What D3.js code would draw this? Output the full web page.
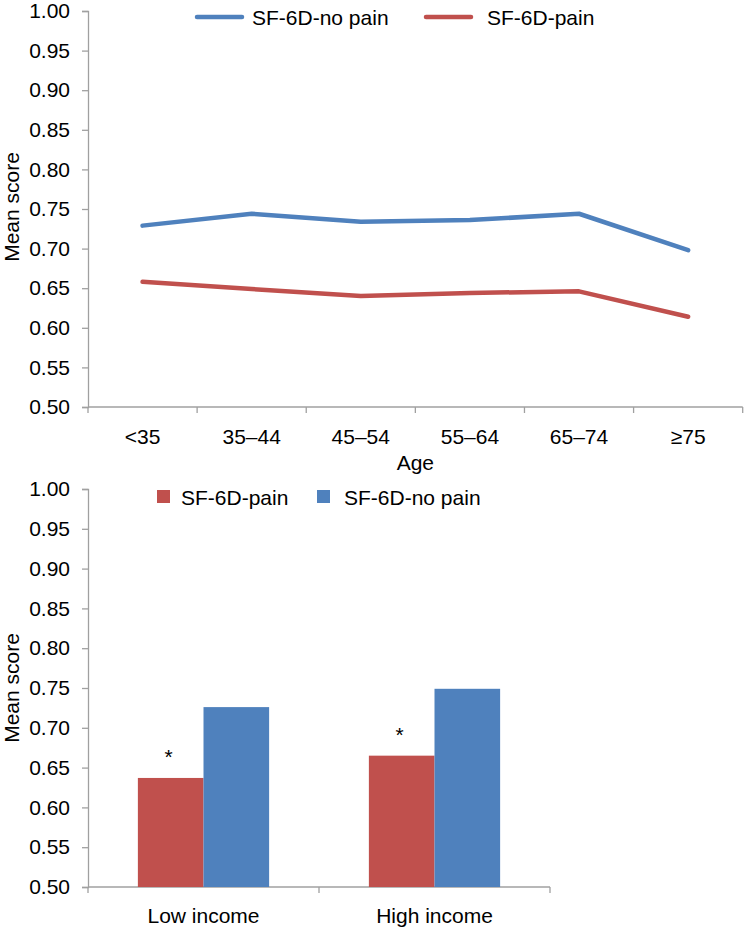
<!DOCTYPE html>
<html><head><meta charset="utf-8">
<script src="https://cdn.jsdelivr.net/npm/d3@7"></script>
<style>
html,body{margin:0;padding:0;background:#fff;}
text{font-family:"Liberation Sans",Arial,sans-serif;fill:#000;}
</style></head>
<body>
<svg id="c" width="744" height="929"></svg>
<script>
// ---- data ----
const ageGroups = ["<35","35–44","45–54","55–64","65–74","≥75"];
const noPainByAge = [0.729,0.744,0.734,0.736,0.744,0.698];
const painByAge   = [0.658,0.649,0.640,0.644,0.646,0.614];
const incomeGroups = ["Low income","High income"];
const painByIncome   = [0.637,0.665];
const noPainByIncome = [0.726,0.749];
const significant = [true,true];
const yTicks = [0.50,0.55,0.60,0.65,0.70,0.75,0.80,0.85,0.90,0.95,1.00];

const BLUE="#4f81bd", RED="#c0504d", AXIS="#a0a0a0", FS=21;
const svg = d3.select("#c");

function yAxis(g, y){
  const ax = d3.axisLeft(y).tickValues(yTicks).tickFormat(d3.format(".2f")).tickSize(6).tickPadding(12);
  g.call(ax);
  g.select(".domain").attr("stroke",AXIS).attr("stroke-width",1.3);
  g.selectAll(".tick line").attr("stroke",AXIS).attr("stroke-width",1.3);
  g.selectAll(".tick text").style("font-size",FS+"px").style("font-family","'Liberation Sans',Arial,sans-serif").attr("fill","#000");
}

// ---- Top chart: line chart by age ----
const yT = d3.scaleLinear().domain([0.5,1]).range([407,11]);
const xT = d3.scaleBand().domain(ageGroups).range([88,742.7]).padding(0);
const gT = svg.append("g");
gT.append("g").attr("transform","translate(88,0)").call(g=>yAxis(g,yT));
gT.append("line").attr("x1",xT.range()[0]).attr("x2",xT.range()[1]).attr("y1",yT(0.5)).attr("y2",yT(0.5)).attr("stroke",AXIS).attr("stroke-width",1.3);
const boundsT = ageGroups.map(d=>xT(d)).concat([xT.range()[1]]);
gT.selectAll(".xt").data(boundsT).join("line").attr("x1",d=>d).attr("x2",d=>d).attr("y1",yT(0.5)).attr("y2",yT(0.5)+6).attr("stroke",AXIS).attr("stroke-width",1.3);
gT.selectAll(".xl").data(ageGroups).join("text").attr("x",d=>xT(d)+xT.bandwidth()/2).attr("y",444).attr("text-anchor","middle").style("font-size",FS+"px").text(d=>d);
gT.append("text").attr("x",(xT.range()[0]+xT.range()[1])/2).attr("y",470).attr("text-anchor","middle").style("font-size",FS+"px").text("Age");
gT.append("text").attr("transform","translate(19,207) rotate(-90)").attr("text-anchor","middle").style("font-size",FS+"px").text("Mean score");
const line = d3.line().x((d,i)=>xT(ageGroups[i])+xT.bandwidth()/2).y(d=>yT(d));
gT.append("path").datum(noPainByAge).attr("d",line).attr("fill","none").attr("stroke",BLUE).attr("stroke-width",4.5).attr("stroke-linejoin","round").attr("stroke-linecap","round");
gT.append("path").datum(painByAge).attr("d",line).attr("fill","none").attr("stroke",RED).attr("stroke-width",4.5).attr("stroke-linejoin","round").attr("stroke-linecap","round");
// legend
const legT = [{name:"SF-6D-no pain",c:BLUE,x:197,tx:252},{name:"SF-6D-pain",c:RED,x:426,tx:487}];
legT.forEach(l=>{
  gT.append("line").attr("x1",l.x).attr("x2",l.x+45).attr("y1",17).attr("y2",17).attr("stroke",l.c).attr("stroke-width",4.5).attr("stroke-linecap","round");
  gT.append("text").attr("x",l.tx).attr("y",25).style("font-size",FS+"px").text(l.name);
});

// ---- Bottom chart: bars by income ----
const yB = d3.scaleLinear().domain([0.5,1]).range([887,489]);
const xB = d3.scaleBand().domain(incomeGroups).range([88,550]).padding(0);
const series = ["pain","nopain"];
const x1 = d3.scaleBand().domain(series).range([0,xB.bandwidth()]).paddingInner(0).paddingOuter(0.76);
const gB = svg.append("g");
gB.append("g").attr("transform","translate(88,0)").call(g=>yAxis(g,yB));
gB.append("line").attr("x1",xB.range()[0]).attr("x2",xB.range()[1]).attr("y1",yB(0.5)).attr("y2",yB(0.5)).attr("stroke",AXIS).attr("stroke-width",1.3);
const boundsB = incomeGroups.map(d=>xB(d)).concat([xB.range()[1]]);
gB.selectAll(".xt").data(boundsB).join("line").attr("x1",d=>d).attr("x2",d=>d).attr("y1",yB(0.5)).attr("y2",yB(0.5)+6).attr("stroke",AXIS).attr("stroke-width",1.3);
gB.selectAll(".xl").data(incomeGroups).join("text").attr("x",d=>xB(d)+xB.bandwidth()/2).attr("y",923).attr("text-anchor","middle").style("font-size",FS+"px").text(d=>d);
gB.append("text").attr("transform","translate(19,688) rotate(-90)").attr("text-anchor","middle").style("font-size",FS+"px").text("Mean score");
const barData = incomeGroups.flatMap((g,i)=>[
  {g, s:"pain", v:painByIncome[i], c:RED, sig:significant[i]},
  {g, s:"nopain", v:noPainByIncome[i], c:BLUE, sig:false}]);
gB.selectAll(".bar").data(barData).join("rect")
  .attr("x",d=>xB(d.g)+x1(d.s)).attr("width",x1.bandwidth())
  .attr("y",d=>yB(d.v)).attr("height",d=>yB(0.5)-yB(d.v)).attr("fill",d=>d.c);
gB.selectAll(".star").data(barData.filter(d=>d.sig)).join("text")
  .attr("x",d=>xB(d.g)+x1(d.s)+x1.bandwidth()/2-2).attr("y",d=>yB(d.v)-14)
  .attr("text-anchor","middle").style("font-size",FS+"px").text("*");
// legend
const legB = [{name:"SF-6D-pain",c:RED,x:157,tx:181},{name:"SF-6D-no pain",c:BLUE,x:317,tx:344}];
legB.forEach(l=>{
  gB.append("rect").attr("x",l.x).attr("y",490).attr("width",13).attr("height",13).attr("fill",l.c);
  gB.append("text").attr("x",l.tx).attr("y",505).style("font-size",FS+"px").text(l.name);
});
</script>
</body></html>
